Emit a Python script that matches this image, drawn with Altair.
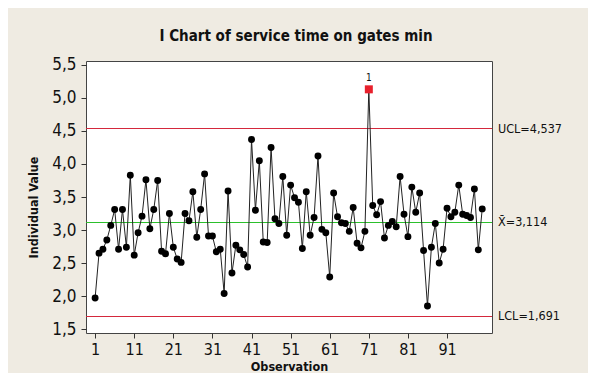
import altair as alt
import pandas as pd

observations = list(range(1, 101))
values = [
    1.97, 2.65, 2.71, 2.85, 3.07, 3.31, 2.71, 3.31, 2.74, 3.83,
    2.62, 2.96, 3.21, 3.76, 3.02, 3.31, 3.75, 2.68, 2.64, 3.25,
    2.74, 2.56, 2.51, 3.25, 3.14, 3.58, 2.89, 3.31, 3.85, 2.91,
    2.91, 2.67, 2.71, 2.04, 3.59, 2.35, 2.77, 2.70, 2.63, 2.44,
    4.37, 3.30, 4.05, 2.82, 2.81, 4.25, 3.17, 3.10, 3.81, 2.92,
    3.68, 3.49, 3.42, 2.72, 3.58, 2.92, 3.19, 4.12, 3.01, 2.96,
    2.29, 3.56, 3.20, 3.11, 3.10, 2.98, 3.34, 2.80, 2.73, 2.98,
    5.13, 3.37, 3.23, 3.43, 2.88, 3.07, 3.13, 3.05, 3.81, 3.24,
    2.90, 3.65, 3.27, 3.56, 2.69, 1.85, 2.74, 3.10, 2.50, 2.71,
    3.33, 3.20, 3.27, 3.68, 3.24, 3.22, 3.19, 3.62, 2.70, 3.32,
]
limit_values = [4.537, 3.114, 1.691]
limit_labels = ["UCL=4,537", "X\u0304=3,114", "LCL=1,691"]
limit_colors = ["#D4283C", "#2CC02C", "#D4283C"]
x_ticks = [1, 11, 21, 31, 41, 51, 61, 71, 81, 91]
y_ticks = [1.5, 2.0, 2.5, 3.0, 3.5, 4.0, 4.5, 5.0, 5.5]

FONT = "DejaVu Sans Condensed, DejaVu Sans"
W, H = 406, 272

df = pd.DataFrame({"obs": observations, "value": values})
df["flag"] = df["value"] > limit_values[0]
lim = pd.DataFrame({"value": limit_values, "label": limit_labels, "color": limit_colors})

xs = alt.Scale(domain=[-1.33, 102.5], nice=False, zero=False)
ys = alt.Scale(domain=[1.441, 5.559], nice=False, zero=False)

x_axis = alt.Axis(values=x_ticks, title="Observation", grid=False, domain=False,
                  labelFontSize=16, labelFont=FONT, labelColor="#111",
                  labelOverlap=False,
                  tickSize=5, tickColor="#333", labelPadding=3,
                  titleFont=FONT, titleFontSize=12.5, titleFontWeight="bold",
                  titleColor="#111", titleX=W / 2, titleY=33,
                  titleBaseline="middle")
y_axis = alt.Axis(values=y_ticks, title="Individual Value", grid=False, domain=False,
                  labelExpr="replace(format(datum.value, '.1f'), '.', ',')",
                  labelFontSize=17, labelFont=FONT, labelColor="#111",
                  labelOverlap=False, tickCount=9,
                  tickSize=5, tickColor="#333", labelPadding=5,
                  titleFont=FONT, titleFontSize=12.5, titleFontWeight="bold",
                  titleColor="#111", titleX=-53, titleY=146, titleAngle=-90,
                  titleAlign="center", titleBaseline="middle")

x_enc = alt.X("obs:Q", scale=xs, axis=x_axis)
y_enc = alt.Y("value:Q", scale=ys, axis=y_axis)

rules = alt.Chart(lim).mark_rule(strokeWidth=1.2).encode(
    y=y_enc,
    x=alt.value(0), x2=alt.value(W),
    color=alt.Color("color:N", scale=None),
)
rule_labels = alt.Chart(lim).mark_text(
    align="left", baseline="middle", fontSize=12.5, font=FONT, color="#111"
).encode(
    y=y_enc, x=alt.value(W + 6), text="label:N"
)

line = alt.Chart(df).mark_line(color="#222222", strokeWidth=1).encode(x=x_enc, y=y_enc)
pts = alt.Chart(df).transform_filter("!datum.flag").mark_circle(
    size=48, color="#000000", opacity=1
).encode(x=x_enc, y=y_enc)
outs = alt.Chart(df).transform_filter("datum.flag").mark_square(
    size=64, color="#E8202C", opacity=1
).encode(x=x_enc, y=y_enc)
out_lbl = alt.Chart(df).transform_filter("datum.flag").mark_text(
    dy=-11, fontSize=10, font=FONT, color="#111"
).encode(x=x_enc, y=y_enc, text=alt.value("1"))

chart = alt.layer(rules, line, pts, outs, out_lbl, rule_labels).properties(
    width=W, height=H,
    title=alt.TitleParams("I Chart of service time on gates min", fontSize=15,
                          font=FONT, fontWeight="bold", color="#111",
                          anchor="middle", offset=12, dx=7),
    autosize=alt.AutoSizeParams(type="none"),
    padding={"left": 78, "top": 53, "right": 96, "bottom": 40},
).configure(background="#EFEBE2").configure_view(
    fill="white", stroke="#444444", strokeWidth=1
)

chart.save("out.html", embed_options={"renderer": "svg", "actions": False})
